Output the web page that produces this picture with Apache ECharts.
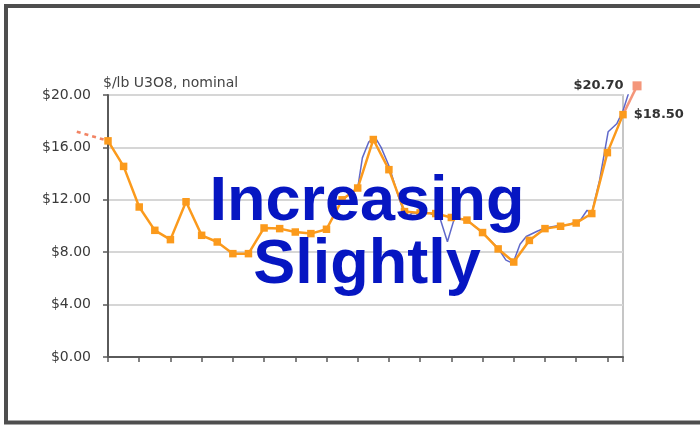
<!DOCTYPE html>
<html>
<head>
<meta charset="utf-8">
<title>Uranium price</title>
<script src="https://cdn.jsdelivr.net/npm/echarts@6/dist/echarts.min.js"></script>
<style>
  html, body { margin: 0; padding: 0; background: #fff; }
  #chart { width: 700px; height: 425px; }
</style>
</head>
<body>
<div id="chart"></div>
<script>
// Half-year periods (index along the time axis)
const halfYears = [0, 1, 2, 3, 4, 5, 6, 7, 8, 9, 10, 11, 12, 13, 14, 15, 16,
  17, 18, 19, 20, 21, 22, 23, 24, 25, 26, 27, 28, 29, 30, 31, 32, 33];
// Half-yearly average price, $/lb U3O8 nominal
const avgPrice = [16.5, 14.55, 11.45, 9.67, 8.96, 11.85, 9.29, 8.78, 7.89, 7.89,
  9.85, 9.8, 9.54, 9.42, 9.75, 12.0, 12.9, 16.6, 14.3, 11.1, 11.0, 10.95,
  10.65, 10.45, 9.5, 8.25, 7.25, 8.9, 9.8, 9.98, 10.23, 10.95, 15.6, 18.5];
// Monthly spot price (period, value)
const spotX = [15, 16, 16.3, 16.7, 17.1, 17.5, 18, 18.6, 19.1, 19.5, 20, 20.6,
  21.3, 21.75, 22.2, 23, 24, 25, 25.5, 25.95, 26.4, 26.8, 27.5, 28, 29, 29.5,
  30, 30.3, 30.7, 31, 31.5, 32.05, 32.6, 33, 33.4];
const spotY = [12.0, 12.9, 15.2, 16.4, 16.8, 16.0, 14.6, 12.3, 10.6, 11.0, 11.0,
  11.0, 10.5, 8.8, 10.6, 10.45, 9.5, 8.3, 7.4, 7.15, 8.6, 9.2, 9.6, 9.85,
  10.05, 10.1, 10.3, 10.5, 11.2, 11.0, 13.5, 17.2, 17.8, 18.8, 20.3];
// Earlier trend leading into the series
const leadX = [-2, 0];
const leadY = [17.2, 16.5];
// Most recent move
const latestX = [33, 33.9];
const latestY = [18.5, 20.7];
// Value axis ticks
const yTicks = [0, 4, 8, 12, 16, 20];

const money = v => '$' + v.toFixed(2);
const pairs = (xs, ys) => xs.map((x, i) => [x, ys[i]]);

const ORANGE = '#fb9a1c';
const SALMON = '#f4967a';
const BLUE = '#4e58c4';
const labelFont = 'DejaVu Sans';

// Plot box spans periods 0..33; an overlay grid with the same scale
// spans -2..34 so the lead-in and latest marks can sit outside the box.
const PLOT_LEFT = 108, PLOT_RIGHT_EDGE = 623, TOP = 95, BOTTOM = 68;
const X_MIN = 0, X_MAX = 33, X_EXT_MIN = -2, X_EXT_MAX = 34;
const unit = (PLOT_RIGHT_EDGE - PLOT_LEFT) / (X_MAX - X_MIN);
const extLeft = PLOT_LEFT - (X_MIN - X_EXT_MIN) * unit;
const extRightEdge = PLOT_RIGHT_EDGE + (X_EXT_MAX - X_MAX) * unit;

const hiddenAxis = {
  axisLine: { show: false }, axisTick: { show: false },
  axisLabel: { show: false }, splitLine: { show: false }
};

const chart = echarts.init(document.getElementById('chart'), null, { renderer: 'canvas' });

chart.setOption({
  animation: false,
  backgroundColor: '#ffffff',
  title: {
    text: '$/lb U3O8, nominal',
    left: 103,
    top: 76,
    padding: 0,
    textStyle: { fontFamily: labelFont, fontSize: 14, fontWeight: 'normal', color: '#444' }
  },
  grid: [
    {
      left: PLOT_LEFT, right: 700 - PLOT_RIGHT_EDGE, top: TOP, bottom: BOTTOM,
      show: true, borderColor: '#b4b4b4', borderWidth: 1.5, backgroundColor: 'transparent'
    },
    {
      left: extLeft, right: 700 - extRightEdge, top: TOP, bottom: BOTTOM
    }
  ],
  xAxis: [
    {
      type: 'value', gridIndex: 0,
      min: X_MIN, max: X_MAX, interval: 2,
      axisLine: { show: true, onZero: false, lineStyle: { color: '#5a5a5a', width: 2 } },
      axisTick: { show: true, length: 5, lineStyle: { color: '#5a5a5a', width: 1.5 } },
      axisLabel: { show: false },
      splitLine: { show: false }
    },
    Object.assign({ type: 'value', gridIndex: 1, min: X_EXT_MIN, max: X_EXT_MAX }, hiddenAxis)
  ],
  yAxis: [
    {
      type: 'value', gridIndex: 0,
      min: yTicks[0], max: yTicks[yTicks.length - 1], interval: yTicks[1] - yTicks[0],
      axisLine: { show: true, lineStyle: { color: '#5a5a5a', width: 2 } },
      axisTick: { show: true, length: 5, lineStyle: { color: '#5a5a5a', width: 1.5 } },
      axisLabel: {
        margin: 17, formatter: money,
        fontFamily: labelFont, fontSize: 14, color: '#3a3a3a'
      },
      splitLine: { show: true, lineStyle: { color: '#d6d6d6', width: 2 } }
    },
    Object.assign({
      type: 'value', gridIndex: 1,
      min: yTicks[0], max: yTicks[yTicks.length - 1]
    }, hiddenAxis)
  ],
  series: [
    {
      name: 'lead',
      type: 'line',
      xAxisIndex: 1, yAxisIndex: 1,
      data: pairs(leadX, leadY),
      symbol: 'none',
      lineStyle: { color: '#f28464', width: 2.5, type: [4, 4] },
      z: 2
    },
    {
      name: 'spot',
      type: 'line',
      xAxisIndex: 1, yAxisIndex: 1,
      data: pairs(spotX, spotY),
      symbol: 'none',
      lineStyle: { color: BLUE, width: 1.5, opacity: 0.9 },
      z: 2
    },
    {
      name: 'latest',
      type: 'line',
      xAxisIndex: 1, yAxisIndex: 1,
      clip: false,
      data: pairs(latestX, latestY).map((d, i) => ({
        value: d,
        symbol: i === latestX.length - 1 ? 'rect' : 'none',
        label: {
          show: i === latestX.length - 1,
          position: 'left',
          distance: 9,
          fontFamily: labelFont, fontSize: 13, fontWeight: 'bold', color: '#333',
          formatter: p => money(p.value[1])
        }
      })),
      symbolSize: 9,
      itemStyle: { color: SALMON },
      lineStyle: { color: SALMON, width: 2.5 },
      z: 3
    },
    {
      name: 'average',
      type: 'line',
      xAxisIndex: 0, yAxisIndex: 0,
      data: pairs(halfYears, avgPrice),
      symbol: 'rect',
      symbolSize: 7.5,
      itemStyle: { color: ORANGE },
      lineStyle: { color: ORANGE, width: 2.5 },
      label: {
        show: true,
        position: 'right',
        distance: 7,
        fontFamily: labelFont, fontSize: 13, fontWeight: 'bold', color: '#333',
        formatter: p => (p.dataIndex === avgPrice.length - 1 ? money(p.value[1]) : '')
      },
      z: 4
    }
  ],
  graphic: [
    {
      type: 'rect',
      shape: { x: 6, y: 6, width: 730, height: 416.5 },
      style: { fill: 'none', stroke: '#4e4e4e', lineWidth: 4 },
      z: 100
    },
    {
      type: 'text',
      x: 367, y: 203,
      style: {
        text: 'Increasing',
        font: 'bold 63px "Liberation Sans", Arial, sans-serif',
        fill: '#0616c2', align: 'center', verticalAlign: 'middle'
      },
      z: 100
    },
    {
      type: 'text',
      x: 367, y: 266,
      style: {
        text: 'Slightly',
        font: 'bold 63px "Liberation Sans", Arial, sans-serif',
        fill: '#0616c2', align: 'center', verticalAlign: 'middle'
      },
      z: 100
    }
  ]
});
</script>
</body>
</html>
